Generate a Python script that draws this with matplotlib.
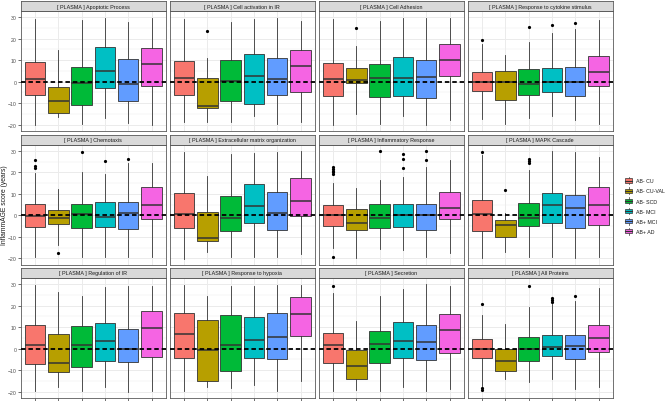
import matplotlib
matplotlib.use('Agg')
import matplotlib.pyplot as plt
from matplotlib.patches import Rectangle, Patch
from matplotlib.lines import Line2D
from matplotlib.legend_handler import HandlerBase

plt.rcParams['font.family'] = ['Liberation Sans', 'DejaVu Sans']

groups = ['AB- CU', 'AB- CU-VAL', 'AB- SCD', 'AB- MCI', 'AB+ MCI', 'AB+ AD']
colors = ['#F8766D', '#B79F00', '#00BA38', '#00BFC4', '#619CFF', '#F564E3']

panels = ['[ PLASMA ] Apoptotic Process', '[ PLASMA ] Cell activation in IR',
          '[ PLASMA ] Cell Adhesion', '[ PLASMA ] Response to cytokine stimulus',
          '[ PLASMA ] Chemotaxis', '[ PLASMA ] Extracellular matrix organization',
          '[ PLASMA ] Inflammatory Response', '[ PLASMA ] MAPK Cascade',
          '[ PLASMA ] Regulation of IR', '[ PLASMA ] Response to hypoxia',
          '[ PLASMA ] Secretion', '[ PLASMA ] All Proteins']

whishi = [
    [29.2, 14.6, 28.6, 29.7, 27.7, 29.7],
    [29.2, 10.8, 27.7, 29.2, 29.4, 28.2],
    [28.9, 16.6, 28.2, 29.4, 29.7, 29.7],
    [17.4, 12.3, 18.2, 22.8, 24.5, 28.5],
    [19.7, 12.3, 20.0, 19.2, 24.3, 24.3],
    [29.4, 18.2, 28.6, 28.9, 29.4, 29.7],
    [15.1, 12.8, 16.2, 17.7, 22.3, 25.8],
    [28.2, 0.9, 21.2, 29.7, 29.4, 27.1],
    [29.7, 26.1, 24.4, 28.4, 28.9, 28.9],
    [29.7, 24.3, 29.2, 29.2, 29.7, 29.7],
    [25.7, 12.7, 24.6, 27.7, 30.0, 28.9],
    [15.8, 11.4, 19.2, 20.7, 22.3, 28.0],
]
q3 = [
    [9.2, -2.6, 6.8, 16.3, 10.5, 15.8],
    [9.7, 1.5, 10.0, 12.8, 10.8, 14.8],
    [8.6, 6.5, 8.0, 11.5, 10.2, 17.7],
    [4.6, 4.9, 5.7, 6.5, 6.8, 12.0],
    [5.1, 2.3, 5.4, 6.2, 6.2, 13.1],
    [10.5, 1.7, 9.2, 14.6, 10.9, 17.4],
    [4.8, 2.8, 5.1, 5.1, 5.5, 10.9],
    [7.2, -2.2, 5.8, 10.6, 9.4, 13.2],
    [10.8, 6.6, 10.4, 11.9, 9.3, 17.6],
    [16.5, 13.4, 15.6, 14.5, 16.7, 23.8],
    [7.1, -0.6, 8.0, 12.2, 11.0, 15.9],
    [4.6, -0.3, 5.4, 6.3, 6.5, 10.8],
]
med = [
    [1.2, -9.2, -0.8, 4.8, -0.9, 8.3],
    [1.5, -11.1, 0.5, 2.5, 1.1, 7.1],
    [1.2, 0.8, 1.8, 1.8, 2.3, 10.2],
    [0.0, 0.0, -0.9, 0.0, 0.0, 4.5],
    [-0.2, -1.4, 0.8, -0.8, 1.2, 4.8],
    [0.5, -10.3, -1.1, 4.3, 1.1, 6.6],
    [0.2, -3.4, -1.1, 0.0, 0.0, 3.5],
    [0.5, -4.6, -1.1, 4.8, 3.4, 4.6],
    [1.9, -6.5, 1.9, 3.4, 0.0, 9.7],
    [7.0, -0.5, 1.9, 4.0, 5.3, 15.9],
    [1.9, -7.9, 2.2, 3.7, 2.9, 8.5],
    [0.0, -5.9, 0.0, 0.8, 1.2, 4.8],
]
q1 = [
    [-6.0, -14.6, -10.8, -3.1, -9.1, -1.8],
    [-6.0, -12.3, -8.8, -10.2, -6.3, -4.9],
    [-6.5, -0.6, -7.2, -6.5, -7.5, 2.5],
    [-4.5, -8.3, -6.0, -4.9, -6.8, -2.2],
    [-5.4, -4.2, -6.0, -5.2, -6.5, -1.8],
    [-6.0, -11.8, -7.2, -3.4, -6.6, -0.3],
    [-4.9, -6.9, -5.7, -5.4, -6.9, -1.8],
    [-7.2, -10.0, -5.1, -3.7, -6.0, -4.6],
    [-7.0, -10.7, -8.3, -5.7, -6.3, -3.7],
    [-4.3, -14.8, -10.5, -4.2, -4.6, 5.7],
    [-6.6, -14.2, -6.8, -4.5, -5.1, -1.9],
    [-4.5, -10.5, -5.9, -3.2, -4.8, -1.7],
]
whislo = [
    [-20.0, -16.5, -19.5, -16.9, -19.1, -20.0],
    [-18.8, -18.8, -18.8, -16.0, -19.5, -18.8],
    [-20.0, -14.9, -19.5, -16.0, -20.0, -18.0],
    [-17.5, -19.5, -16.9, -16.0, -18.0, -19.5],
    [-19.5, -13.7, -19.2, -19.5, -19.5, -19.5],
    [-20.3, -16.8, -19.5, -19.5, -19.5, -18.0],
    [-15.2, -20.0, -15.7, -16.2, -19.5, -17.7],
    [-20.0, -16.9, -19.1, -19.5, -20.0, -19.5],
    [-19.5, -17.6, -19.5, -17.6, -20.0, -19.5],
    [-19.5, -17.9, -18.4, -16.7, -19.8, -14.8],
    [-19.5, -19.2, -19.8, -17.9, -19.5, -18.7],
    [-17.2, -14.2, -15.6, -14.2, -18.7, -17.6],
]
outliers = [
    [[], [], [], [], [], []],
    [[], [23.5], [], [], [], []],
    [[], [24.9], [], [], [], []],
    [[19.4], [], [25.5], [26.2], [27.1], []],
    [[25.8, 22.8, 22.2], [-17.4], [29.2], [25.1], [26.2], []],
    [[], [], [], [], [], []],
    [[22.3, 21.5, 20.8, 20.0, 19.2, -19.5], [], [30.0], [28.5, 26.2, 22.0], [30.0, 25.8], []],
    [[29.6], [12.0], [26.2, 25.1, 24.3], [], [], []],
    [[], [], [], [], [], []],
    [[], [], [], [], [], []],
    [[28.9], [], [], [], [], []],
    [[20.6, -18.4, -19.0], [], [28.9], [23.6, 22.7, 21.8], [24.6], []],
]
yticks = [-20, -10, 0, 10, 20, 30]

W, H = 669, 402
fig = plt.figure(figsize=(W / 100, H / 100), dpi=100)
fig.patch.set_facecolor('white')

col_left = [21, 170, 319, 468]
pw = 144.5
row_top = [12, 145.7, 279]
ph = 120
sh = 10
dark = '#333333'
border = '#595959'

for i, title in enumerate(panels):
    r, c = divmod(i, 4)
    ax = fig.add_axes([col_left[c] / W, 1 - (row_top[r] + ph) / H, pw / W, ph / H])
    stats = []
    for g in range(6):
        stats.append(dict(med=med[i][g], q1=q1[i][g], q3=q3[i][g],
                          whislo=whislo[i][g], whishi=whishi[i][g],
                          fliers=outliers[i][g]))
    bp = ax.bxp(stats, positions=list(range(1, 7)), widths=0.88, patch_artist=True,
                showcaps=False,
                boxprops=dict(edgecolor=dark, linewidth=0.6),
                whiskerprops=dict(color=dark, linewidth=0.6),
                medianprops=dict(color=dark, linewidth=1.1),
                flierprops=dict(marker='o', markerfacecolor='black', markeredgecolor='black',
                                markersize=2.3, markeredgewidth=0))
    for patch, col in zip(bp['boxes'], colors):
        patch.set_facecolor(col)
    for art in bp['whiskers'] + bp['medians']:
        art.set_zorder(3)
    for patch in bp['boxes']:
        patch.set_zorder(2.5)
    ax.axhline(0, color='black', linestyle=(0, (2.5, 1.6)), linewidth=1.3, zorder=5)
    ax.set_xlim(0.4, 6.6)
    ax.set_ylim(-22.9, 32.8)
    ax.set_yticks(yticks)
    ax.set_yticks([-15, -5, 5, 15, 25], minor=True)
    ax.set_xticks(range(1, 7))
    ax.grid(which='major', color='#ebebeb', linewidth=0.7, zorder=0)
    ax.grid(which='minor', axis='y', color='#ebebeb', linewidth=0.35, zorder=0)
    ax.set_axisbelow(True)
    for sp in ax.spines.values():
        sp.set_color(border)
        sp.set_linewidth(0.6)
    ax.tick_params(which='minor', length=0)
    ax.tick_params(axis='both', which='major', length=2, width=0.5, color=dark,
                   labelsize=3.7, labelcolor='#4d4d4d', pad=1.2)
    ax.set_xticklabels([])
    if r < 2:
        ax.tick_params(axis='x', bottom=False)
    if c > 0:
        ax.tick_params(axis='y', left=False, labelleft=False)
    # strip
    sax = fig.add_axes([col_left[c] / W, 1 - row_top[r] / H, pw / W, sh / H])
    sax.set_facecolor('#d9d9d9')
    sax.set_xticks([])
    sax.set_yticks([])
    for sp in sax.spines.values():
        sp.set_color(border)
        sp.set_linewidth(0.6)
    sax.text(0.5, 0.5, title, ha='center', va='center', fontsize=3.9, color='#1a1a1a',
             transform=sax.transAxes)

fig.text(4.5 / W, 1 - 205.5 / H, 'InflammAGE score (years)', rotation=90, ha='center',
         va='center', fontsize=4.9, color='#1a1a1a')


class BoxHandler(HandlerBase):
    def create_artists(self, legend, orig_handle, xdescent, ydescent, width, height,
                       fontsize, trans):
        col = orig_handle.get_facecolor()
        x0, y0 = -xdescent, -ydescent
        cx = x0 + width / 2
        wl = Line2D([cx, cx], [y0 - height * 0.15, y0 + height * 1.15], color=dark,
                    lw=0.5, transform=trans)
        rect = Rectangle((x0, y0 + height * 0.1), width, height * 0.8, facecolor=col,
                         edgecolor=dark, lw=0.5, transform=trans)
        ml = Line2D([x0, x0 + width], [y0 + height / 2] * 2, color=dark, lw=0.8,
                    transform=trans)
        return [wl, rect, ml]


handles = [Patch(facecolor=col) for col in colors]
leg = fig.legend(handles, groups, handler_map={Patch: BoxHandler()},
                 loc='center left', bbox_to_anchor=(625 / W, 1 - 207 / H),
                 frameon=False, fontsize=3.8, handlelength=1.35, handleheight=1.15,
                 labelspacing=0.9, handletextpad=0.75, borderaxespad=0, borderpad=0)
for t in leg.get_texts():
    t.set_color('#1a1a1a')

fig.savefig('out.png', dpi=100, facecolor='white')
